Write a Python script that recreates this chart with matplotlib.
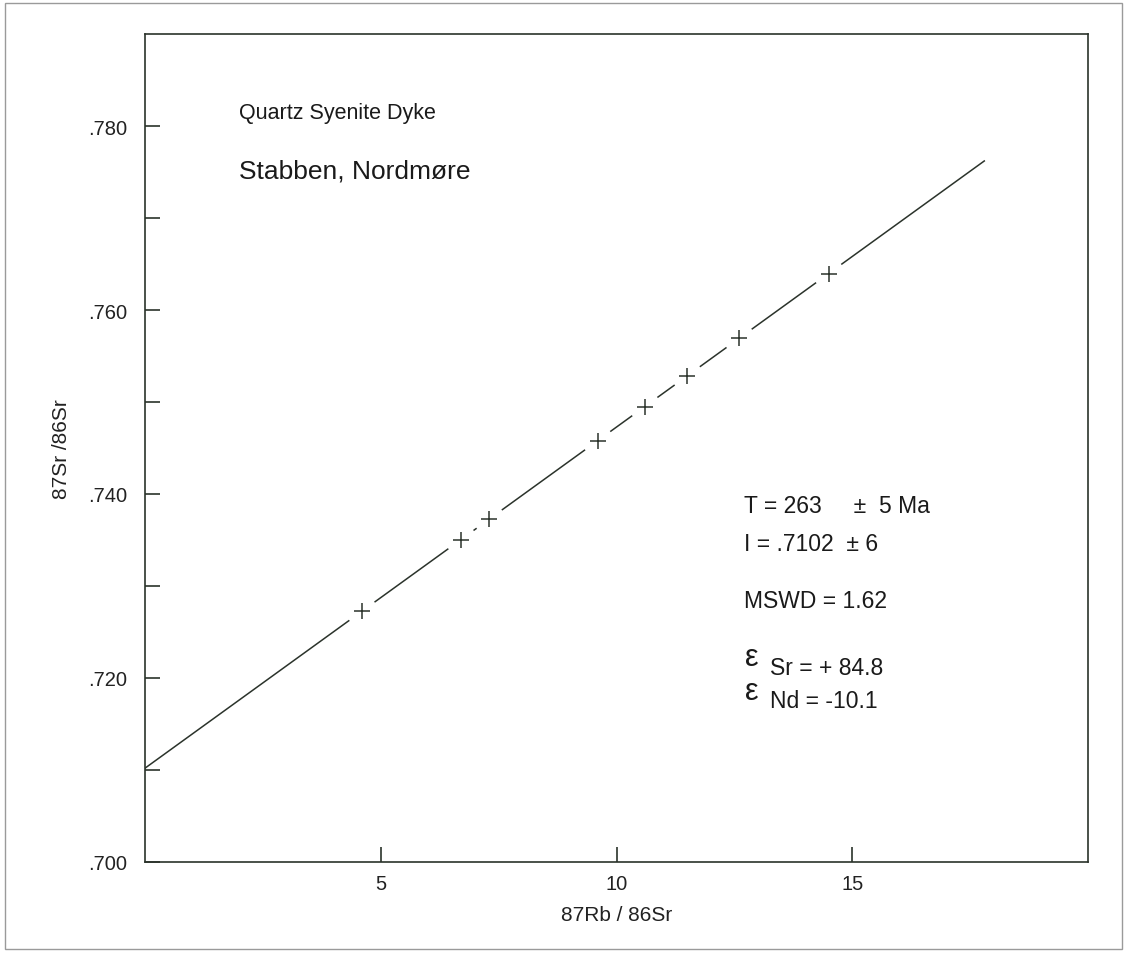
import matplotlib
matplotlib.use("Agg")
import matplotlib.pyplot as plt
from matplotlib.patches import Rectangle

plt.rcParams['font.family'] = ['Liberation Sans', 'DejaVu Sans']

# data
rb_sr = [4.6, 6.7, 7.3, 9.6, 10.6, 11.5, 12.6, 14.5]
intercept = 0.7102
line_x_end = 17.8
line_y_end = 0.7762
xticks = [5, 10, 15]
yticks = [0.700, 0.710, 0.720, 0.730, 0.740, 0.750, 0.760, 0.770, 0.780]
ytick_labels = ['.700', '', '.720', '', '.740', '', '.760', '', '.780']

slope = (line_y_end - intercept) / line_x_end
sr_sr = [intercept + slope * x for x in rb_sr]

col = '#2b332b'
fig = plt.figure(figsize=(11.27, 9.54), dpi=100)
ax = fig.add_axes([0.1287, 0.0954, 0.9654 - 0.1287, 0.9633 - 0.0954])
ax.set_xlim(0, 20)
ax.set_ylim(0.700, 0.790)

# regression line with gaps around data points
gap = 0.28
xs = sorted(rb_sr)
starts = [0.0] + [x + gap for x in xs]
ends = [x - gap for x in xs] + [line_x_end]
for s, e in zip(starts, ends):
    if e > s:
        ax.plot([s, e], [intercept + slope * s, intercept + slope * e], color=col, lw=1.1)

ax.plot(rb_sr, sr_sr, linestyle='none', marker='+', markersize=12, mew=1.1, color=col)

for sp in ax.spines.values():
    sp.set_color(col)
    sp.set_linewidth(1.2)

ax.set_xticks(xticks)
ax.set_xticklabels([str(t) for t in xticks])
ax.set_yticks(yticks)
ax.set_yticklabels(ytick_labels)
ax.tick_params(direction='in', length=11, width=1.2, color=col, labelsize=14.5,
               labelcolor='#222222')
ax.tick_params(axis='x', pad=9)
ax.tick_params(axis='y', pad=13)
ax.set_xlabel('87Rb / 86Sr', fontsize=15, color='#222222', labelpad=8)
ax.set_ylabel('87Sr /86Sr', fontsize=15, color='#222222', labelpad=12)

tc = '#1a1a1a'
ax.text(2.0, 0.7815, 'Quartz Syenite Dyke', fontsize=15.5, color=tc, va='center')
ax.text(2.0, 0.7752, 'Stabben, Nordmøre', fontsize=19, color=tc, va='center')

fs = 16.5
ax.text(12.7, 0.7387, 'T = 263     ±  5 Ma', fontsize=fs, color=tc, va='center')
ax.text(12.7, 0.7346, 'I = .7102  ± 6', fontsize=fs, color=tc, va='center')
ax.text(12.7, 0.7284, 'MSWD = 1.62', fontsize=fs, color=tc, va='center')
ax.text(12.72, 0.7223, 'ε', fontsize=22, color=tc, va='center')
ax.text(13.25, 0.7211, 'Sr = + 84.8', fontsize=fs, color=tc, va='center')
ax.text(12.72, 0.7186, 'ε', fontsize=22, color=tc, va='center')
ax.text(13.25, 0.7175, 'Nd = -10.1', fontsize=fs, color=tc, va='center')

fig.patches.append(Rectangle((0.004, 0.004), 0.992, 0.992, transform=fig.transFigure,
                             fill=False, edgecolor='#9a9a9a', lw=1.0))

fig.savefig('out.png', dpi=100)
